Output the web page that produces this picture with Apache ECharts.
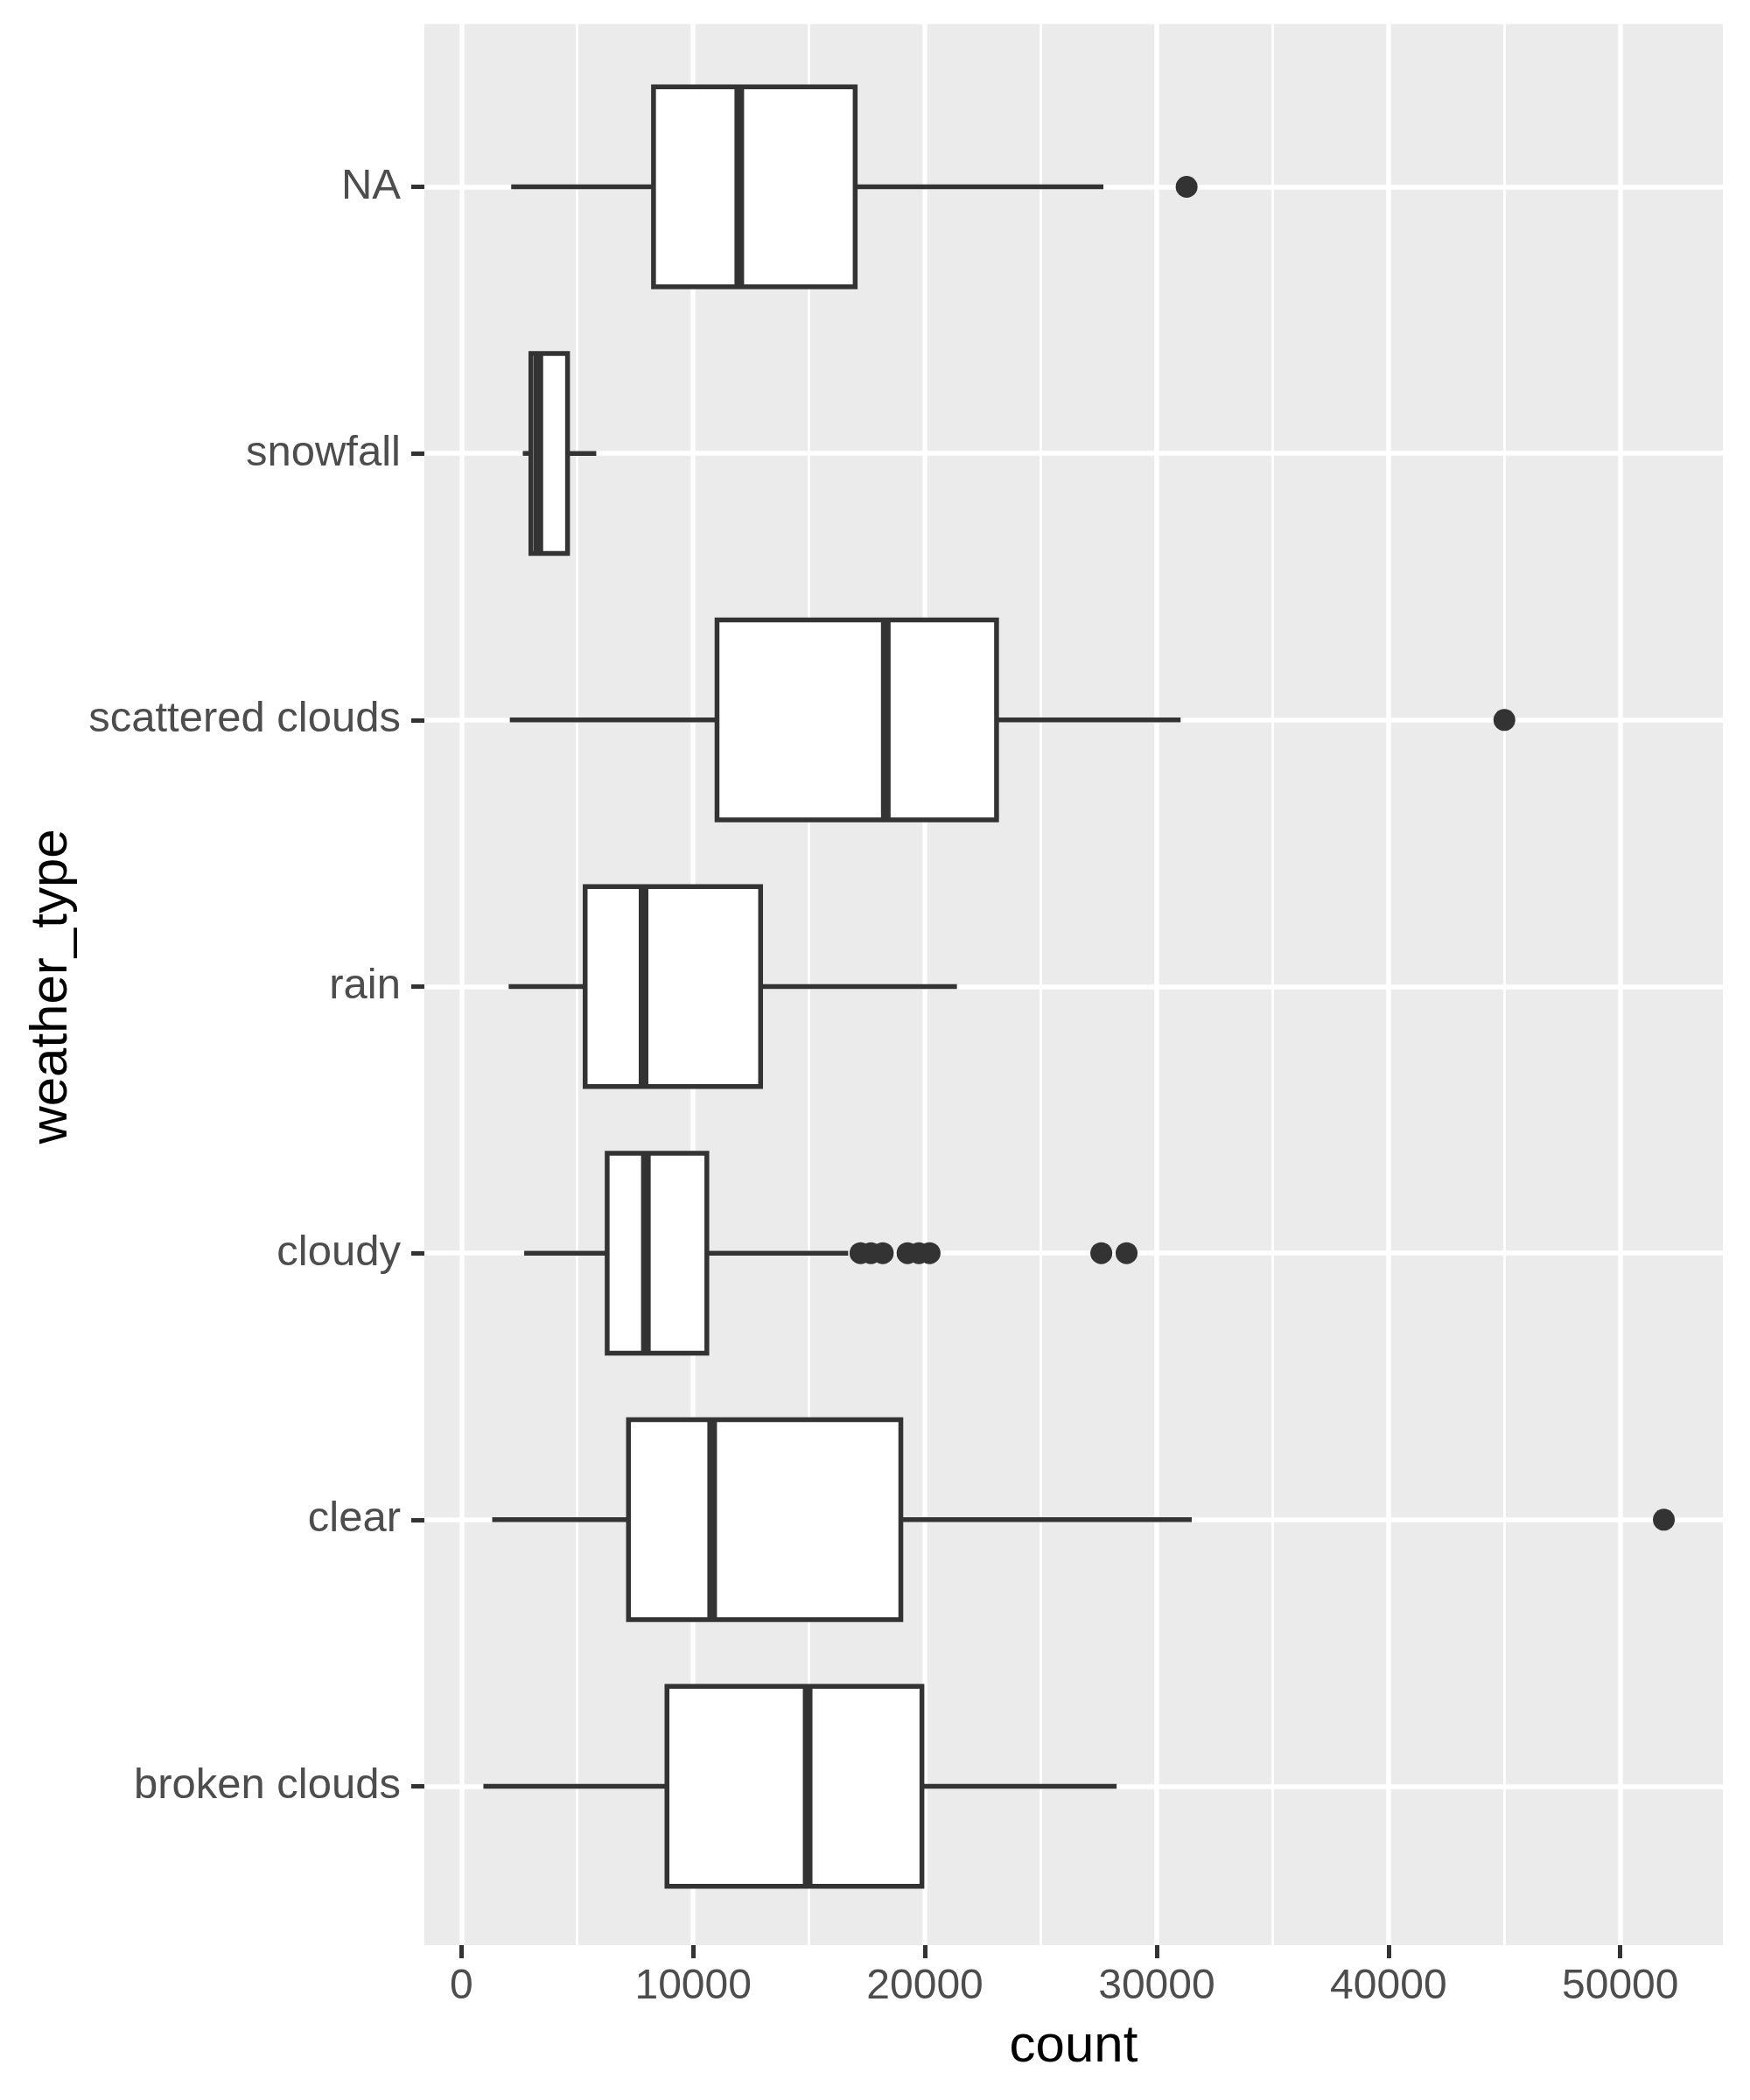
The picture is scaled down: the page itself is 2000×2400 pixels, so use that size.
<!DOCTYPE html>
<html>
<head>
<meta charset="utf-8">
<script src="https://cdn.jsdelivr.net/npm/echarts@6/dist/echarts.min.js"></script>
<style>
  html, body { margin: 0; padding: 0; background: #ffffff; }
  #chart { width: 2000px; height: 2400px; }
</style>
</head>
<body>
<div id="chart"></div>
<script>
// Categories from bottom to top (ggplot draws the first level at the bottom)
const categories = ['broken clouds', 'clear', 'cloudy', 'rain', 'scattered clouds', 'snowfall', 'NA'];
const whiskerLow  = [950,   1330,  2710,  2040,  2090,  2650, 2150];
const q1          = [8870,  7210,  6290,  5340,  11030, 3000, 8290];
const median      = [14940, 10820, 7960,  7860,  18310, 3320, 11990];
const q3          = [19870, 18960, 10590, 12910, 23090, 4580, 16990];
const whiskerHigh = [28270, 31510, 16690, 21380, 31030, 5820, 27700];
const outliers = [
  [],
  [51880],
  [17220, 17670, 18180, 19250, 19740, 20200, 27610, 28700],
  [],
  [45000],
  [],
  [31290]
];
const xMajorTicks = [0, 10000, 20000, 30000, 40000, 50000];
const xMinorTicks = [5000, 15000, 25000, 35000, 45000];

// build series data
const boxData = categories.map((c, i) => [i, whiskerLow[i], q1[i], median[i], q3[i], whiskerHigh[i]]);
const outlierData = [];
outliers.forEach((arr, i) => arr.forEach(v => outlierData.push([v, i])));

// ggplot-like 5% expansion of the data range
let allVals = whiskerLow.concat(whiskerHigh);
outliers.forEach(a => { allVals = allVals.concat(a); });
const dMin = Math.min.apply(null, allVals), dMax = Math.max.apply(null, allVals);
const pad = (dMax - dMin) * 0.05;
const xMin = dMin - pad, xMax = dMax + pad;

const FONT = "'Liberation Sans', Arial, Helvetica, sans-serif";
const DARK = '#333333';

const chart = echarts.init(document.getElementById('chart'), null, { renderer: 'canvas' });
chart.setOption({
  animation: false,
  backgroundColor: '#ffffff',
  textStyle: { fontFamily: FONT },
  grid: [
    { left: 485, top: 27.5, width: 1484, height: 2195.5, show: true, backgroundColor: '#EBEBEB', borderWidth: 0, containLabel: false },
    { left: 485, top: 213.5, width: 1484, height: 1828, show: false, containLabel: false }
  ],
  xAxis: [
    {
      gridIndex: 0, type: 'value', position: 'bottom', min: xMin, max: xMax,
      axisLine: { show: false, onZero: false },
      axisTick: { show: true, customValues: xMajorTicks, length: 15, lineStyle: { color: DARK, width: 5 } },
      axisLabel: { show: true, customValues: xMajorTicks, fontSize: 48, color: '#4D4D4D', margin: 24, fontFamily: FONT,
                   formatter: function (v) { return String(v); } },
      splitLine: { show: true, lineStyle: { color: '#ffffff', width: 5.5 } },
      name: 'count', nameLocation: 'middle', nameGap: 86,
      nameTextStyle: { fontSize: 60, color: '#000000', fontFamily: FONT }
    },
    {
      gridIndex: 0, type: 'value', position: 'top', min: xMin, max: xMax,
      axisLine: { show: false, onZero: false },
      axisTick: { show: false, customValues: xMinorTicks },
      axisLabel: { show: false, customValues: xMinorTicks },
      splitLine: { show: true, lineStyle: { color: '#ffffff', width: 2.8 } }
    },
    {
      gridIndex: 1, type: 'value', min: xMin, max: xMax, show: false,
      axisLine: { onZero: false },
      splitLine: { show: false }
    }
  ],
  yAxis: [
    { gridIndex: 0, type: 'value', min: 0, max: 1, show: false, axisLine: { onZero: false }, splitLine: { show: false } },
    {
      gridIndex: 1, type: 'category', data: categories, boundaryGap: false, position: 'left',
      axisLine: { show: false, onZero: false },
      axisTick: { show: true, length: 15, interval: 0, lineStyle: { color: DARK, width: 5 } },
      axisLabel: { show: true, interval: 0, fontSize: 49, color: '#4D4D4D', margin: 27, fontFamily: FONT },
      splitLine: { show: true, interval: 0, lineStyle: { color: '#ffffff', width: 5.5 } },
      name: 'weather_type', nameLocation: 'middle', nameRotate: 90, nameGap: 396,
      nameTextStyle: { fontSize: 60, color: '#000000', fontFamily: FONT }
    }
  ],
  series: [
    {
      type: 'custom',
      xAxisIndex: 2, yAxisIndex: 1,
      data: boxData,
      encode: { x: [1, 2, 3, 4, 5], y: 0 },
      silent: true,
      renderItem: function (params, api) {
        const c = api.value(0);
        const lo = api.coord([api.value(1), c]);
        const a = api.coord([api.value(2), c]);
        const m = api.coord([api.value(3), c]);
        const b = api.coord([api.value(4), c]);
        const hi = api.coord([api.value(5), c]);
        const band = api.size([0, 1])[1];
        const h = band * 0.75;
        const y = lo[1];
        const lineStyle = { stroke: DARK, lineWidth: 5.5, fill: null };
        return {
          type: 'group',
          children: [
            { type: 'line', shape: { x1: lo[0], y1: y, x2: a[0], y2: y }, style: lineStyle },
            { type: 'line', shape: { x1: b[0], y1: y, x2: hi[0], y2: y }, style: lineStyle },
            { type: 'rect', shape: { x: a[0], y: y - h / 2, width: b[0] - a[0], height: h },
              style: { fill: '#ffffff', stroke: DARK, lineWidth: 5.5 } },
            { type: 'line', shape: { x1: m[0], y1: y - h / 2, x2: m[0], y2: y + h / 2 },
              style: { stroke: DARK, lineWidth: 11 } }
          ]
        };
      }
    },
    {
      type: 'scatter',
      xAxisIndex: 2, yAxisIndex: 1,
      data: outlierData,
      symbol: 'circle',
      symbolSize: 25,
      silent: true,
      itemStyle: { color: DARK, opacity: 1 },
      z: 5
    }
  ]
});
</script>
</body>
</html>
